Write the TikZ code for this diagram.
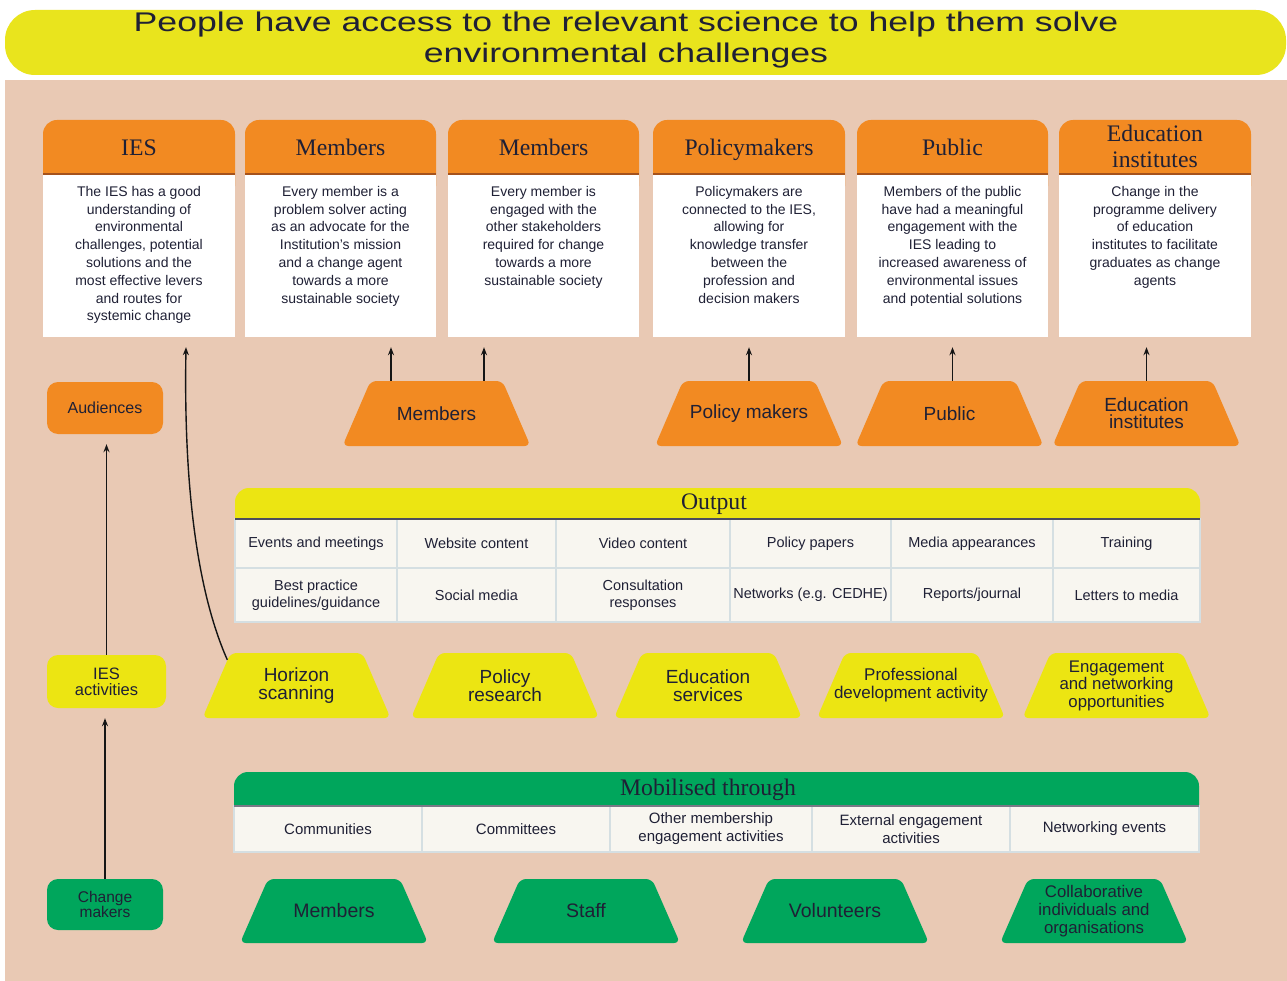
\documentclass[tikz,border=0pt]{standalone}
\usepackage{fontspec}
\setmainfont{Liberation Serif}
\newfontfamily\wc{Liberation Sans}
\newfontfamily\wt[FakeStretch=1.32]{Liberation Sans}
\usetikzlibrary{arrows.meta,calc}
\definecolor{ylw}{HTML}{E9E41D}
\definecolor{ylwb}{HTML}{ECE512}
\definecolor{orng}{HTML}{F28A22}
\definecolor{grn}{HTML}{00A65C}
\definecolor{peach}{HTML}{E9C9B4}
\definecolor{txt}{HTML}{1F2035}
\definecolor{hlinec}{HTML}{A5521C}
\definecolor{gridc}{HTML}{D5DFE2}
\definecolor{cellbg}{HTML}{F8F6F0}
\definecolor{arrc}{HTML}{151515}
\newcommand{\fsz}[2]{\fontsize{#1pt}{#2pt}\selectfont}
\newcommand{\card}[7]{%
 \fill[orng, rounded corners=14pt] (#2,120) rectangle (#3,200);
 \fill[white] (#2,175) rectangle (#3,337);
 \draw[hlinec, line width=2pt] (#2,174) -- (#3,174);
 \node[cardbox, minimum width={#3-#2}] (#1) at ({(#2+#3)/2},228.5) {};
 \node[hd, anchor=#7] (#1h) at ({(#2+#3)/2},#6) {#4};
 \node[bd, anchor=north] (#1b) at ({(#2+#3)/2},186) {#5};
}
\newcommand{\cellbox}[7]{%
 \node[cell, font=#7, minimum width={#3-#2}, minimum height={#5-#4}] (#1) at ({(#2+#3)/2},{(#4+#5)/2}) {#6};
}
\begin{document}
\begin{tikzpicture}[x=1pt,y=-1pt,
 arr/.style={line width=1.4pt, draw=arrc, -{Stealth[length=8pt,width=6pt]}},
 hd/.style={font=\fsz{23.7}{26}, text=txt, align=center, inner sep=0pt},
 bd/.style={font=\wc\fsz{14}{17.8}, text=txt, align=center, inner sep=0pt},
 cardbox/.style={minimum height=217pt, inner sep=0pt},
 trap/.style={minimum width=188pt, minimum height=65pt, inner sep=0pt, align=center, text=txt,
   path picture={\fill[#1, rounded corners=6pt] (path picture bounding box.north)
     -- ([xshift=-28pt]path picture bounding box.north east)
     -- (path picture bounding box.south east)
     -- (path picture bounding box.south west)
     -- ([xshift=28pt]path picture bounding box.north west) -- cycle;}},
 rbox/.style={fill=#1, rounded corners=11pt, text=txt, align=center, inner sep=0pt},
 cell/.style={draw=gridc, line width=1.2pt, fill=cellbg, inner sep=0pt, align=center, text=txt},
]
\useasboundingbox (0,0) rectangle (1287,981);
\fill[white] (0,0) rectangle (1287,981);
\fill[peach] (5,80) rectangle (1287,981);
\fill[ylw, rounded corners=30pt] (5,10) rectangle (1286,75);
\node[font=\wt\fsz{27}{31}, align=center, text=txt, inner sep=0pt] (title) at (626,40)
 {People have access to the relevant science to help them solve\\environmental challenges};

% cards
\card{c1}{43}{235}{IES}{The IES has a good\\understanding of\\environmental\\challenges, potential\\solutions and the\\most effective levers\\and routes for\\systemic change}{156}{base}
\card{c2}{245}{436}{Members}{Every member is a\\problem solver acting\\as an advocate for the\\Institution’s mission\\and a change agent\\towards a more\\sustainable society}{156}{base}
\card{c3}{448}{639}{Members}{Every member is\\engaged with the\\other stakeholders\\required for change\\towards a more\\sustainable society}{156}{base}
\card{c4}{653}{845}{Policymakers}{Policymakers are\\connected to the IES,\\allowing for\\knowledge transfer\\between the\\profession and\\decision makers}{156}{base}
\card{c5}{857}{1048}{Public}{Members of the public\\have had a meaningful\\engagement with the\\IES leading to\\increased awareness of\\environmental issues\\and potential solutions}{156}{base}
\card{c6}{1059}{1251}{Education\\institutes}{Change in the\\programme delivery\\of education\\institutes to facilitate\\graduates as change\\agents}{146}{center}

% left column
\node[rbox=orng, minimum width=116pt, minimum height=52pt, font=\wc\fsz{16}{18}] (aud) at (105,408) {Audiences};
\node[rbox=ylwb, minimum width=119pt, minimum height=53pt, font=\wc\fsz{16.5}{16}] (iesa) at (106.5,681.5) {IES\\activities};
\node[rbox=grn, minimum width=116pt, minimum height=51pt, font=\wc\fsz{15.5}{15}] (chg) at (105,904.5) {Change\\makers};

% orange trapezoids
\node[trap=orng, font=\wc\fsz{19}{17}] (tm) at (436.5,413.5) {Members};
\node[trap=orng, font=\wc\fsz{19}{17}] (tp) at (749,413.5) {Policy makers};
\node[trap=orng, font=\wc\fsz{19}{17}] (tpub) at (949.5,413.5) {Public};
\node[trap=orng, font=\wc\fsz{19}{17}] (ted) at (1146.5,413.5) {Education\\institutes};

% output table
\fill[ylwb, rounded corners=14pt] (235,488) rectangle (1200,540);
\node[hd] (outh) at (714,504) {Output};
\cellbox{o11}{235}{397}{519}{568}{Events and meetings}{\wc\fsz{14.5}{17.5}}
\cellbox{o12}{397}{556}{519}{568}{Website content}{\wc\fsz{14.5}{17.5}}
\cellbox{o13}{556}{730}{519}{568}{Video content}{\wc\fsz{14.5}{17.5}}
\cellbox{o14}{730}{891}{519}{568}{Policy papers}{\wc\fsz{14.5}{17.5}}
\cellbox{o15}{891}{1053}{519}{568}{Media appearances}{\wc\fsz{14.5}{17.5}}
\cellbox{o16}{1053}{1200}{519}{568}{Training}{\wc\fsz{14.5}{17.5}}
\cellbox{o21}{235}{397}{568}{622}{Best practice\\guidelines/guidance}{\wc\fsz{14.5}{17.5}}
\cellbox{o22}{397}{556}{568}{622}{Social media}{\wc\fsz{14.5}{17.5}}
\cellbox{o23}{556}{730}{568}{622}{Consultation\\responses}{\wc\fsz{14.5}{17.5}}
\cellbox{o24}{730}{891}{568}{622}{Networks (e.g. CEDHE)}{\wc\fsz{14.5}{17.5}}
\cellbox{o25}{891}{1053}{568}{622}{Reports/journal}{\wc\fsz{14.5}{17.5}}
\cellbox{o26}{1053}{1200}{568}{622}{Letters to media}{\wc\fsz{14.5}{17.5}}
\draw[line width=1.3pt, draw=txt!80] (235,519) -- (1200,519);

% yellow trapezoids
\node[trap=ylwb, font=\wc\fsz{19}{18}] (hz) at (296.5,685.5) {Horizon\\scanning};
\node[trap=ylwb, font=\wc\fsz{19}{18}] (pr) at (505,685.5) {Policy\\research};
\node[trap=ylwb, font=\wc\fsz{19}{18}] (es) at (708,685.5) {Education\\services};
\node[trap=ylwb, font=\wc\fsz{17}{18}] (pd) at (911,685.5) {Professional\\development activity};
\node[trap=ylwb, font=\wc\fsz{16.8}{17.5}] (en) at (1116.5,685.5) {Engagement\\and networking\\opportunities};

% mobilised table
\fill[grn, rounded corners=14pt] (234,772) rectangle (1199,830);
\node[hd] (mobh) at (708,790) {Mobilised through};
\cellbox{m1}{234}{422}{806}{852}{Communities}{\wc\fsz{15}{18}}
\cellbox{m2}{422}{610}{806}{852}{Committees}{\wc\fsz{15}{18}}
\cellbox{m3}{610}{812}{806}{852}{Other membership\\engagement activities}{\wc\fsz{15}{18}}
\cellbox{m4}{812}{1010}{806}{852}{External engagement\\activities}{\wc\fsz{15}{18}}
\cellbox{m5}{1010}{1199}{806}{852}{Networking events}{\wc\fsz{15}{18}}
\draw[line width=1.2pt, draw=txt!60] (234,806) -- (1199,806);

% green trapezoids
\node[trap=grn, minimum height=64pt, font=\wc\fsz{19.5}{18}] (gm) at (334,911) {Members};
\node[trap=grn, minimum height=64pt, font=\wc\fsz{19.5}{18}] (gs) at (586,911) {Staff};
\node[trap=grn, minimum height=64pt, font=\wc\fsz{19.5}{18}] (gv) at (835,911) {Volunteers};
\node[trap=grn, minimum height=64pt, font=\wc\fsz{16.8}{18}] (gc) at (1094,911) {Collaborative\\individuals and\\organisations};

% arrows
\coordinate (t1) at ([xshift=47pt,yshift=-10pt]c1.south);
\coordinate (t2) at ([xshift=50.5pt,yshift=-10pt]c2.south);
\coordinate (t3) at ([xshift=-59.5pt,yshift=-10pt]c3.south);
\coordinate (t4) at ([yshift=-10pt]c4.south);
\coordinate (t5) at ([yshift=-10pt]c5.south);
\coordinate (t6) at ([yshift=-10pt]c6.south);
\draw[arr] ([xshift=25pt,yshift=-7pt]hz.north west) .. controls (192,580) and (184,460) .. (t1);
\draw[arr] (tm.north -| t2) -- (t2);
\draw[arr] (tm.north -| t3) -- (t3);
\draw[arr] (tp.north) -- (tp.north |- t4);
\draw[arr] (tpub.north -| t5) -- (t5);
\draw[arr] (ted.north) -- (ted.north |- t6);
\draw[arr, shorten >=10pt] (iesa.north) -- (iesa.north |- aud.south);
\draw[arr, shorten >=10pt] (chg.north) -- (chg.north |- iesa.south);
\end{tikzpicture}
\end{document}
